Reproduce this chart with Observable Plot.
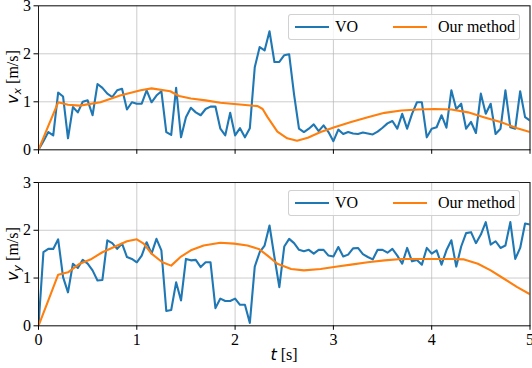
<!DOCTYPE html>
<html>
<head>
<meta charset="utf-8">
<script src="https://cdn.jsdelivr.net/npm/d3@7"></script>
<script src="https://cdn.jsdelivr.net/npm/@observablehq/plot@0.6"></script>
<style>
  html, body { margin: 0; padding: 0; background: white; }
  #wrap { position: relative; width: 532px; height: 368px; overflow: hidden; font-family: "Liberation Serif", serif; }
  .panel { position: absolute; left: 0; }
  .panel, .panel text { font-family: "Liberation Serif", serif !important; font-size: 16px; }
  .legend { position: absolute; left: 288px; width: 232px; height: 26px; border: 1px solid rgba(204,204,204,0.9); border-radius: 3px; background: rgba(255,255,255,0.8); box-sizing: border-box; font-size: 16px; }
  .legend .sw { position: absolute; top: 11px; width: 34px; height: 2.2px; }
  .legend .lb { position: absolute; top: 3px; line-height: 18px; white-space: nowrap; }
  .ylab { position: absolute; transform: translate(-50%, -50%) rotate(-90deg); white-space: nowrap; font-size: 16px; }
  .ylab i, .xlab i { font-family: "DejaVu Sans", sans-serif; font-style: italic; }
  .ylab sub { font-family: "DejaVu Sans", sans-serif; font-style: italic; font-size: 11px; vertical-align: -3px; }
  .xlab { position: absolute; transform: translateX(-50%); white-space: nowrap; font-size: 16px; }
</style>
</head>
<body>
<div id="wrap"></div>
<script>
// ---- data ----
const tVO = [0,0.05,0.1,0.15,0.2,0.25,0.3,0.35,0.4,0.45,0.5,0.55,0.6,0.65,0.7,0.75,0.8,0.85,0.9,0.95,
  1.0,1.05,1.1,1.15,1.2,1.25,1.3,1.35,1.4,1.45,1.5,1.55,1.6,1.65,1.7,1.75,1.8,1.85,1.9,1.95,
  2.0,2.05,2.1,2.15,2.2,2.25,2.3,2.35,2.4,2.45,2.5,2.55,2.6,2.65,2.7,2.75,2.8,2.85,2.9,2.95,
  3.0,3.05,3.1,3.15,3.2,3.25,3.3,3.35,3.4,3.45,3.5,3.55,3.6,3.65,3.7,3.75,3.8,3.85,3.9,3.95,
  4.0,4.05,4.1,4.15,4.2,4.25,4.3,4.35,4.4,4.45,4.5,4.55,4.6,4.65,4.7,4.75,4.8,4.85,4.9,4.95,5.0];
const vxVO = [0,0.18,0.37,0.30,1.19,1.11,0.24,0.89,0.78,1.00,1.03,0.72,1.37,1.29,1.17,1.10,1.24,1.27,0.84,0.99,
  0.96,0.96,1.24,0.99,1.13,1.22,0.37,0.31,1.29,0.26,0.68,0.875,0.78,0.72,0.85,0.90,0.90,0.44,0.30,0.77,
  0.30,0.45,0.26,0.45,1.72,2.14,2.07,2.47,1.83,1.83,1.97,1.99,1.15,0.44,0.37,0.44,0.53,0.39,0.51,0.37,
  0.18,0.42,0.33,0.37,0.34,0.33,0.36,0.34,0.32,0.38,0.46,0.55,0.60,0.44,0.75,0.44,0.75,0.99,0.99,0.26,
  0.44,0.47,0.72,0.46,1.24,0.85,0.96,0.44,0.58,0.35,1.17,0.75,0.96,0.33,0.44,1.24,0.47,0.44,1.22,0.68,0.61];
const vyVO = [0,1.54,1.61,1.61,1.81,1.02,0.70,1.30,1.21,1.38,1.30,1.16,0.95,0.96,1.79,1.73,1.61,1.72,1.44,1.40,
  1.33,1.47,1.75,1.51,1.82,1.58,0.31,0.33,0.91,0.53,1.40,1.37,1.38,1.23,1.33,1.33,0.37,0.57,0.52,0.52,
  0.57,0.44,0.44,0.06,1.24,1.54,1.68,2.10,1.44,0.81,1.66,1.82,1.73,1.59,1.56,1.59,1.51,1.59,1.59,1.47,
  1.45,1.65,1.45,1.49,1.62,1.63,1.50,1.44,1.39,1.59,1.59,1.53,1.61,1.47,1.30,1.63,1.35,1.38,1.28,1.63,
  1.51,1.58,1.28,1.58,1.79,1.24,1.66,1.94,1.96,1.73,1.91,2.17,1.70,1.77,1.63,1.68,2.17,1.40,1.63,2.14,2.12];

const tOursX = [0,0.1,0.2,0.3,0.42,0.63,0.83,1.04,1.15,1.34,1.43,1.55,1.7,1.85,2.02,2.23,2.28,2.33,2.43,2.53,2.63,2.74,2.87,3.01,3.18,3.35,3.52,3.69,3.86,4.03,4.2,4.37,4.53,4.7,4.87,5.0];
const vxOurs = [0,0.5,0.99,0.94,0.92,0.99,1.13,1.24,1.28,1.22,1.12,1.07,1.03,0.98,0.95,0.91,0.85,0.68,0.38,0.24,0.19,0.25,0.37,0.47,0.58,0.68,0.77,0.82,0.84,0.85,0.84,0.78,0.68,0.58,0.45,0.37];
const tOursY = [0,0.1,0.2,0.3,0.42,0.54,0.65,0.78,0.9,1.0,1.07,1.15,1.26,1.35,1.45,1.55,1.68,1.85,1.99,2.125,2.24,2.33,2.43,2.57,2.7,2.87,3.04,3.18,3.35,3.52,3.69,3.86,4.03,4.2,4.33,4.47,4.6,4.74,4.87,5.0];
const vyOurs = [0,0.53,1.07,1.12,1.30,1.40,1.54,1.66,1.77,1.81,1.72,1.51,1.33,1.26,1.45,1.58,1.68,1.74,1.72,1.68,1.61,1.47,1.30,1.19,1.16,1.19,1.24,1.28,1.33,1.37,1.40,1.40,1.40,1.40,1.39,1.30,1.16,0.98,0.81,0.66];

const xTicks = [0,1,2,3,4,5];
const yTicks = [0,1,2,3];
const seriesNames = ["VO", "Our method"];
const seriesColors = ["#1f77b4", "#ff7f0e"];

// ---- build ----
const voX = tVO.map((t,i) => ({t, v: vxVO[i]}));
const voY = tVO.map((t,i) => ({t, v: vyVO[i]}));
const ourX = tOursX.map((t,i) => ({t, v: vxOurs[i]}));
const ourY = tOursY.map((t,i) => ({t, v: vyOurs[i]}));

function panel(vo, ours, opts) {
  return Plot.plot({
    width: 532,
    height: opts.height,
    marginLeft: 38,
    marginRight: 2.5,
    marginTop: opts.mt,
    marginBottom: opts.mb,
    x: {domain: [0, 5]},
    y: {domain: [0, 3]},
    style: {fontFamily: '"Liberation Serif", serif', fontSize: "16px", background: "transparent", color: "black", overflow: "visible"},
    marks: [
      Plot.gridX(xTicks, {stroke: "#b0b0b0", strokeOpacity: 0.65, strokeWidth: 1}),
      Plot.gridY(yTicks, {stroke: "#b0b0b0", strokeOpacity: 0.65, strokeWidth: 1}),
      Plot.line(vo, {x: "t", y: "v", stroke: seriesColors[0], strokeWidth: 2.1, clip: true}),
      Plot.line(ours, {x: "t", y: "v", stroke: seriesColors[1], strokeWidth: 2.1, clip: true}),
      Plot.frame({stroke: "#1a1a1a", strokeWidth: 1}),
      Plot.axisY(yTicks, {tickSize: 4.5, tickPadding: 3, label: null, fontSize: 16, strokeWidth: 1}),
      Plot.axisX(xTicks, {tickSize: 4.5, tickPadding: 3, label: null, fontSize: 16, strokeWidth: 1,
        tickFormat: opts.showX ? (d => String(d)) : (() => "")})
    ]
  });
}

const wrap = document.getElementById("wrap");

const p1 = panel(voX, ourX, {height: 160, mt: 5.3, mb: 10.7, showX: false});
p1.classList.add("panel"); p1.style.top = "0px";
wrap.appendChild(p1);

const p2 = panel(voY, ourY, {height: 208, mt: 22, mb: 42.7, showX: true});
p2.classList.add("panel"); p2.style.top = "160px";
wrap.appendChild(p2);

function legend(top) {
  const d = document.createElement("div");
  d.className = "legend";
  d.style.top = top + "px";
  const swL = [6, 104], lbL = [46, 149];
  seriesNames.forEach((n, i) => {
    const s = document.createElement("div");
    s.className = "sw"; s.style.left = swL[i] + "px"; s.style.background = seriesColors[i];
    d.appendChild(s);
    const l = document.createElement("div");
    l.className = "lb"; l.style.left = lbL[i] + "px"; l.textContent = n;
    d.appendChild(l);
  });
  wrap.appendChild(d);
}
legend(14);
legend(189.5);

function ylab(html, cy) {
  const d = document.createElement("div");
  d.className = "ylab"; d.innerHTML = html;
  d.style.left = "13px"; d.style.top = cy + "px";
  wrap.appendChild(d);
}
ylab("<i>v</i><sub>x</sub> [m/s]", 77);
ylab("<i>v</i><sub>y</sub> [m/s]", 254);

const xl = document.createElement("div");
xl.className = "xlab"; xl.innerHTML = "<i>t</i> [s]";
xl.style.left = "284px"; xl.style.top = "345px";
wrap.appendChild(xl);
</script>
</body>
</html>
